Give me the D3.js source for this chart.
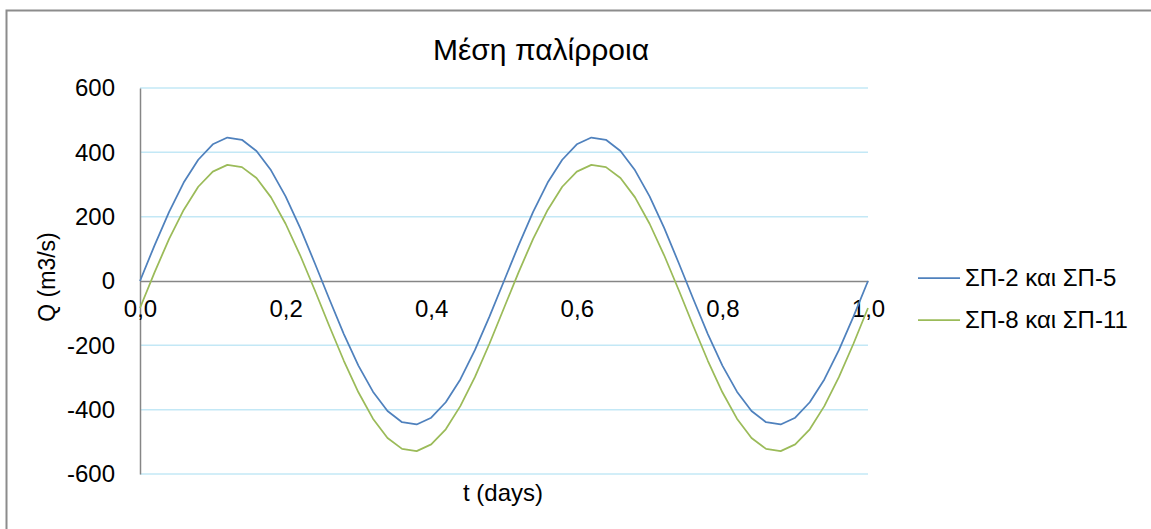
<!DOCTYPE html>
<html>
<head>
<meta charset="utf-8">
<script src="https://cdn.jsdelivr.net/npm/d3@7"></script>
<style>
  body { margin: 0; background: #fff; }
  text { font-family: "Liberation Sans", Arial, sans-serif; fill: #000; }
</style>
</head>
<body>
<svg id="chart" width="1151" height="529"></svg>
<script>
// time in days
const tDays = [
  0, 0.02, 0.04, 0.06, 0.08, 0.1, 0.12, 0.14, 0.16, 0.18,
  0.2, 0.22, 0.24, 0.26, 0.28, 0.3, 0.32, 0.34, 0.36, 0.38,
  0.4, 0.42, 0.44, 0.46, 0.48, 0.5, 0.52, 0.54, 0.56, 0.58,
  0.6, 0.62, 0.64, 0.66, 0.68, 0.7, 0.72, 0.74, 0.76, 0.78,
  0.8, 0.82, 0.84, 0.86, 0.88, 0.9, 0.92, 0.94, 0.96, 0.98, 1.0
];

// ΣΠ-2 και ΣΠ-5
const qSP2 = [
  0, 111, 215, 306, 377, 425, 446, 439, 404, 344,
  263, 165, 56, -56, -165, -263, -344, -404, -439, -446,
  -425, -377, -306, -215, -111, 0, 111, 215, 306, 377,
  425, 446, 439, 404, 344, 263, 165, 56, -56, -165,
  -263, -344, -404, -439, -446, -425, -377, -306, -215, -111, 0
];

// ΣΠ-8 και ΣΠ-11
const qSP8 = [
  -84, 27, 131, 221, 293, 340, 361, 354, 320, 260,
  178, 80, -28, -140, -248, -346, -428, -488, -522, -529,
  -508, -461, -389, -299, -195, -84, 27, 131, 221, 293,
  340, 361, 354, 320, 260, 178, 80, -28, -140, -248,
  -346, -428, -488, -522, -529, -508, -461, -389, -299, -195, -84
];

const seriesNames = ["ΣΠ-2 και ΣΠ-5", "ΣΠ-8 και ΣΠ-11"];
const seriesColors = ["#4f81bd", "#9bbb59"];
const yTicks = [-600, -400, -200, 0, 200, 400, 600];
const xTicks = [0, 0.2, 0.4, 0.6, 0.8, 1.0];

const svg = d3.select("#chart");

// outer chart frame
svg.append("rect")
  .attr("x", 6.5).attr("y", 10.5)
  .attr("width", 1160).attr("height", 540)
  .attr("fill", "#fff")
  .attr("stroke", "#8c8c8c")
  .attr("stroke-width", 2);

const x = d3.scaleLinear().domain([0, 1]).range([140, 868]);
const y = d3.scaleLinear().domain([-600, 600]).range([474, 88]);

// gridlines
svg.append("g")
  .selectAll("line")
  .data(yTicks.filter(d => d !== 0))
  .join("line")
  .attr("x1", x(0)).attr("x2", x(1))
  .attr("y1", d => y(d)).attr("y2", d => y(d))
  .attr("stroke", "#c3e8f6")
  .attr("stroke-width", 1.5);

// y axis
const yAxis = svg.append("g")
  .attr("transform", `translate(${x(0)},0)`)
  .call(d3.axisLeft(y).tickValues(yTicks).tickSize(0).tickPadding(25)
    .tickFormat(d => String(d)));
yAxis.select(".domain").attr("stroke", "#868686").attr("stroke-width", 1.5);
yAxis.selectAll("text")
  .attr("font-size", 24)
  .attr("font-family", "Liberation Sans, Arial, sans-serif")
  .attr("fill", "#000");

// x axis at zero
const xAxis = svg.append("g")
  .attr("transform", `translate(0,${y(0)})`)
  .call(d3.axisBottom(x).tickValues(xTicks).tickSize(0).tickPadding(19)
    .tickFormat(d => d3.format(".1f")(d).replace(".", ",")));
xAxis.select(".domain").attr("stroke", "#868686").attr("stroke-width", 1.5);
xAxis.selectAll("text")
  .attr("font-size", 24)
  .attr("font-family", "Liberation Sans, Arial, sans-serif")
  .attr("fill", "#000");

// lines
const line = d3.line()
  .x((d, i) => x(tDays[i]))
  .y(d => y(d));

[qSP2, qSP8].forEach((s, k) => {
  svg.append("path")
    .datum(s)
    .attr("fill", "none")
    .attr("stroke", seriesColors[k])
    .attr("stroke-width", 1.75)
    .attr("stroke-linejoin", "round")
    .attr("d", line);
});

// title
svg.append("text")
  .attr("x", 541).attr("y", 60)
  .attr("text-anchor", "middle")
  .attr("font-size", 30)
  .text("Μέση παλίρροια");

// axis titles
svg.append("text")
  .attr("x", 503).attr("y", 501)
  .attr("text-anchor", "middle")
  .attr("font-size", 24)
  .text("t (days)");

svg.append("text")
  .attr("transform", "translate(55,277) rotate(-90)")
  .attr("text-anchor", "middle")
  .attr("font-size", 23)
  .text("Q (m3/s)");

// legend
const legend = svg.append("g");
seriesNames.forEach((name, k) => {
  const ly = 278 + k * 42;
  legend.append("line")
    .attr("x1", 918).attr("x2", 960)
    .attr("y1", ly).attr("y2", ly)
    .attr("stroke", seriesColors[k])
    .attr("stroke-width", 1.75);
  legend.append("text")
    .attr("x", 965).attr("y", ly + 8)
    .attr("font-size", 24)
    .text(name);
});
</script>
</body>
</html>
